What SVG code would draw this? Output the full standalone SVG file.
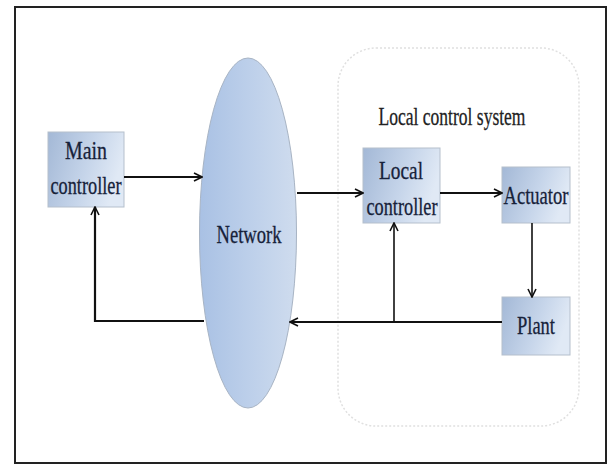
<svg xmlns="http://www.w3.org/2000/svg" width="609" height="466" viewBox="0 0 609 466">
<defs>
<linearGradient id="boxg" x1="0" y1="0" x2="1" y2="0.3">
<stop offset="0" stop-color="#a3b8d6"/>
<stop offset="0.6" stop-color="#c6d5ea"/>
<stop offset="1" stop-color="#e0e9f5"/>
</linearGradient>
<linearGradient id="netg" x1="0" y1="0" x2="1" y2="0">
<stop offset="0" stop-color="#a9c1e4"/>
<stop offset="0.5" stop-color="#bccfea"/>
<stop offset="1" stop-color="#cfdcee"/>
</linearGradient>
<marker id="arr" viewBox="0 0 10 10" refX="9" refY="5" markerWidth="10" markerHeight="10" markerUnits="userSpaceOnUse" orient="auto">
<path d="M1,1 L9,5 L1,9" fill="none" stroke="#111" stroke-width="1.6"/>
</marker>
</defs>
<style>
.box{fill:url(#boxg);stroke:#b5bfcc;stroke-width:1}
.lbl{font-family:"Liberation Serif",serif;fill:#17223a;text-anchor:middle;stroke:#17223a;stroke-width:0.3}
.ln{fill:none;stroke:#111;stroke-width:2.2}
</style>
<rect x="0" y="0" width="609" height="466" fill="#ffffff"/>
<rect x="15" y="7" width="591" height="456" fill="none" stroke="#222" stroke-width="2"/>

<g id="local-system">
<rect x="338" y="48" width="241" height="378" rx="38" ry="38" fill="none" stroke="#e0e0e0" stroke-width="1.5" stroke-dasharray="2,2"/>
<text class="lbl" x="452" y="125" font-size="26" textLength="147" lengthAdjust="spacingAndGlyphs" style="fill:#222;stroke:#222">Local control system</text>
</g>

<g id="main-controller">
<rect class="box" x="48" y="132" width="76" height="75"/>
<text class="lbl" x="86" y="159" font-size="26" textLength="42" lengthAdjust="spacingAndGlyphs">Main</text>
<text class="lbl" x="86" y="194" font-size="26" textLength="71" lengthAdjust="spacingAndGlyphs">controller</text>
</g>

<g id="network">
<ellipse cx="248" cy="233" rx="48.5" ry="175" fill="url(#netg)" stroke="#a8b4c4" stroke-width="1"/>
<text class="lbl" x="249" y="243" font-size="26" textLength="65" lengthAdjust="spacingAndGlyphs">Network</text>
</g>

<g id="local-controller">
<rect class="box" x="363" y="148" width="77" height="75"/>
<text class="lbl" x="401" y="179" font-size="26" textLength="44" lengthAdjust="spacingAndGlyphs">Local</text>
<text class="lbl" x="402" y="215" font-size="26" textLength="71" lengthAdjust="spacingAndGlyphs">controller</text>
</g>

<g id="actuator">
<rect class="box" x="502" y="167" width="68" height="56"/>
<text class="lbl" x="536" y="204" font-size="26" textLength="65" lengthAdjust="spacingAndGlyphs">Actuator</text>
</g>

<g id="plant">
<rect class="box" x="502" y="297" width="68" height="58"/>
<text class="lbl" x="536" y="334" font-size="26" textLength="38" lengthAdjust="spacingAndGlyphs">Plant</text>
</g>

<g id="connectors">
<line class="ln" x1="124" y1="177" x2="202" y2="177" marker-end="url(#arr)"/>
<line class="ln" x1="297" y1="193" x2="363" y2="193" marker-end="url(#arr)"/>
<line class="ln" x1="440" y1="193" x2="502" y2="193" marker-end="url(#arr)"/>
<line class="ln" x1="532" y1="223" x2="532" y2="297" style="stroke-width:1.6" marker-end="url(#arr)"/>
<line class="ln" x1="502" y1="322" x2="290" y2="322" marker-end="url(#arr)"/>
<line class="ln" x1="394" y1="322" x2="394" y2="223" style="stroke-width:1.6" marker-end="url(#arr)"/>
<polyline class="ln" points="204,321 95,321 95,207" marker-end="url(#arr)"/>
</g>
</svg>
